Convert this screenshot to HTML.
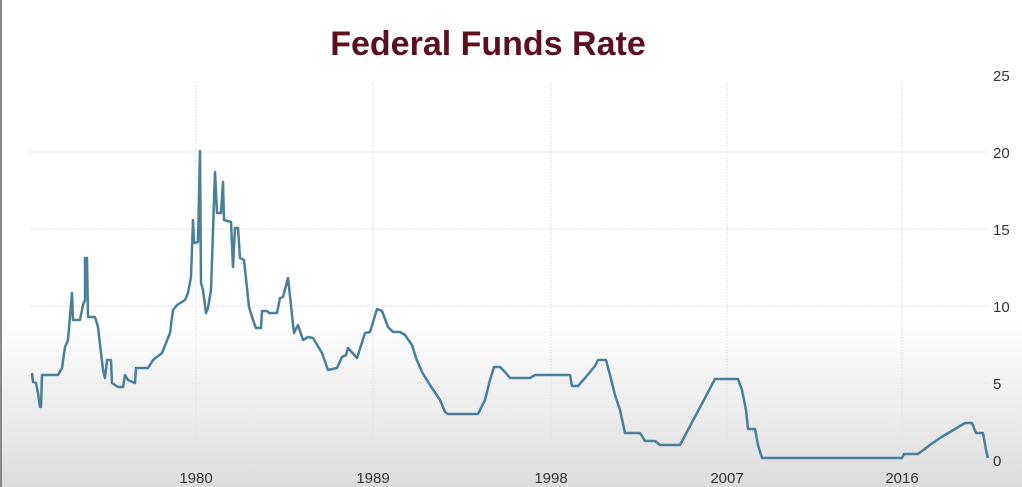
<!DOCTYPE html>
<html><head><style>
body{margin:0;width:1022px;height:487px;overflow:hidden;background:linear-gradient(#fff 0,#fff 320px,#dcdcdc 487px);font-family:"Liberation Sans",sans-serif;}
</style></head><body>
<svg width="1022" height="487" style="position:absolute;left:0;top:0">
<rect x="0" y="0" width="2" height="487" fill="#888"/>
<text x="488" y="55" text-anchor="middle" font-size="34" font-weight="bold" fill="#5a1020">Federal Funds Rate</text>
<g stroke="#e2e2e2" stroke-width="1" stroke-dasharray="2,1">
<line x1="30" x2="988" y1="152" y2="152"/><line x1="30" x2="988" y1="229" y2="229"/>
<line x1="30" x2="988" y1="306" y2="306"/><line x1="30" x2="988" y1="383" y2="383"/>
<line x1="30" x2="988" y1="460" y2="460"/>
<line x1="196" x2="196" y1="82" y2="460"/><line x1="373" x2="373" y1="82" y2="460"/>
<line x1="551" x2="551" y1="82" y2="460"/><line x1="727" x2="727" y1="82" y2="460"/>
<line x1="902" x2="902" y1="82" y2="460"/>
</g>
<g font-size="15" fill="#333">
<text x="993" y="81">25</text><text x="993" y="158">20</text><text x="993" y="235">15</text>
<text x="993" y="312">10</text><text x="993" y="389">5</text><text x="993" y="466">0</text>
<g text-anchor="middle"><text x="196" y="483">1980</text><text x="373" y="483">1989</text><text x="551" y="483">1998</text><text x="727" y="483">2007</text><text x="902" y="483">2016</text></g>
</g>
<polyline fill="none" stroke="#4a7f98" stroke-width="2.5" stroke-linejoin="round" points="32,373 33,382 36,383 38,393 40,407 41,407 42,375 58,375 62,368 65,347 68,340 72,293 73,320 80,320 83,305 85,300 85,258 87,258 88,317 95,317 98,327 103,370 105,378 107,360 111,360 112,383 118,387 123,387 125,375 128,380 135,383 136,368 148,368 153,360 162,353 170,333 173,310 177,305 185,300 188,293 191,277 193,220 194,243 198,242 200,151 201,283 203,290 206,313 208,308 211,290 215,172 217,213 221,213 223,182 224,220 231,222 233,267 235,228 238,228 240,258 244,260 249,307 253,320 256,328 261,328 262,311 267,311 269,313 277,313 280,298 283,297 288,278 294,333 298,325 303,340 308,337 313,338 322,353 328,370 337,368 342,357 346,355 348,348 357,358 365,333 370,332 377,309 382,311 388,327 393,332 400,332 405,335 412,345 416,358 422,372 430,385 440,400 445,412 448,414 478,414 485,400 490,380 494,367 500,367 505,372 510,378 530,378 535,375 570,375 572,386 578,386 585,378 595,366 598,360 606,360 610,375 615,395 620,410 625,433 640,433 645,441 655,441 660,445 680,445 715,379 738,379 742,390 746,410 748,429 755,429 758,445 762,458 902,458 904,454 918,454 930,445 940,438 950,432 965,423 972,423 976,433 983,433 986,450 988,458"/>
</svg>
</body></html>
